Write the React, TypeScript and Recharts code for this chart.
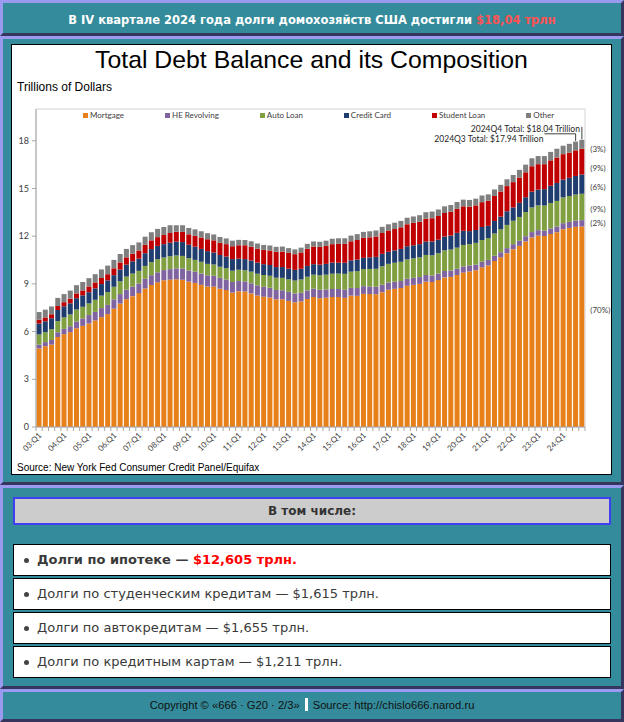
import { BarChart, Bar, XAxis, YAxis, Legend, LabelList, ReferenceLine, ReferenceArea } from "recharts";
import type { CSSProperties } from "react";

// quarters 2003Q1 .. 2024Q4, trillions of dollars (NY Fed CCP / Equifax)
const YEARS = ["03", "04", "05", "06", "07", "08", "09", "10", "11", "12", "13", "14", "15", "16", "17", "18", "19", "20", "21", "22", "23", "24"];
const QUARTERS = ["Q1", "Q2", "Q3", "Q4"];
const CATEGORIES = YEARS.flatMap((y) => QUARTERS.map((q) => `${y}:${q}`));
const Y_TICKS = [0, 3, 6, 9, 12, 15, 18];

const MORTGAGE = [
  4.94, 5.08, 5.18, 5.66,
  5.84, 5.97, 6.21, 6.36,
  6.51, 6.70, 6.91, 7.10,
  7.44, 7.76, 8.04, 8.23,
  8.42, 8.71, 8.93, 9.10,
  9.23, 9.27, 9.29, 9.26,
  9.14, 9.06, 8.94, 8.84,
  8.83, 8.70, 8.61, 8.45,
  8.54, 8.52, 8.40, 8.27,
  8.19, 8.15, 8.03, 8.03,
  7.93, 7.84, 7.90, 8.05,
  8.17, 8.10, 8.13, 8.17,
  8.17, 8.12, 8.26, 8.25,
  8.37, 8.36, 8.35, 8.48,
  8.63, 8.69, 8.74, 8.88,
  8.94, 9.00, 9.14, 9.12,
  9.24, 9.41, 9.44, 9.56,
  9.71, 9.78, 9.86, 10.04,
  10.16, 10.44, 10.67, 10.93,
  11.18, 11.39, 11.67, 11.92,
  12.04, 12.01, 12.14, 12.25,
  12.44, 12.52, 12.59, 12.61,
];

const HE_REVOLVING = [
  0.24, 0.26, 0.29, 0.30,
  0.33, 0.37, 0.43, 0.47,
  0.53, 0.54, 0.57, 0.58,
  0.59, 0.60, 0.60, 0.60,
  0.61, 0.61, 0.62, 0.63,
  0.64, 0.66, 0.69, 0.71,
  0.71, 0.71, 0.71, 0.70,
  0.68, 0.68, 0.67, 0.67,
  0.64, 0.64, 0.64, 0.64,
  0.63, 0.61, 0.59, 0.57,
  0.57, 0.56, 0.54, 0.54,
  0.53, 0.53, 0.52, 0.51,
  0.51, 0.51, 0.49, 0.49,
  0.49, 0.48, 0.47, 0.47,
  0.46, 0.45, 0.44, 0.44,
  0.44, 0.43, 0.42, 0.41,
  0.41, 0.40, 0.40, 0.39,
  0.39, 0.38, 0.36, 0.35,
  0.35, 0.33, 0.32, 0.32,
  0.32, 0.32, 0.33, 0.34,
  0.34, 0.34, 0.35, 0.36,
  0.38, 0.38, 0.39, 0.40,
];

const AUTO_LOAN = [
  0.64, 0.62, 0.68, 0.70,
  0.72, 0.74, 0.75, 0.73,
  0.73, 0.76, 0.78, 0.80,
  0.79, 0.80, 0.82, 0.82,
  0.79, 0.81, 0.82, 0.82,
  0.79, 0.81, 0.81, 0.79,
  0.77, 0.74, 0.74, 0.72,
  0.71, 0.70, 0.71, 0.71,
  0.71, 0.70, 0.73, 0.73,
  0.74, 0.75, 0.77, 0.78,
  0.79, 0.81, 0.84, 0.86,
  0.88, 0.91, 0.93, 0.96,
  0.97, 1.00, 1.02, 1.06,
  1.07, 1.10, 1.13, 1.16,
  1.17, 1.19, 1.21, 1.22,
  1.23, 1.24, 1.26, 1.27,
  1.28, 1.30, 1.32, 1.33,
  1.35, 1.34, 1.36, 1.37,
  1.37, 1.40, 1.44, 1.46,
  1.47, 1.50, 1.52, 1.55,
  1.56, 1.58, 1.60, 1.61,
  1.62, 1.63, 1.64, 1.66,
];

const CREDIT_CARD = [
  0.69, 0.69, 0.69, 0.70,
  0.70, 0.70, 0.71, 0.72,
  0.71, 0.72, 0.73, 0.74,
  0.73, 0.74, 0.75, 0.77,
  0.77, 0.80, 0.82, 0.84,
  0.84, 0.85, 0.87, 0.87,
  0.84, 0.83, 0.81, 0.80,
  0.76, 0.74, 0.73, 0.73,
  0.70, 0.70, 0.70, 0.70,
  0.68, 0.68, 0.67, 0.68,
  0.67, 0.67, 0.67, 0.68,
  0.66, 0.67, 0.68, 0.70,
  0.68, 0.70, 0.71, 0.73,
  0.71, 0.73, 0.75, 0.78,
  0.76, 0.78, 0.81, 0.83,
  0.82, 0.83, 0.84, 0.87,
  0.85, 0.87, 0.88, 0.93,
  0.89, 0.82, 0.81, 0.82,
  0.77, 0.79, 0.80, 0.86,
  0.84, 0.89, 0.93, 0.99,
  0.99, 1.03, 1.08, 1.13,
  1.12, 1.14, 1.17, 1.21,
];

const STUDENT_LOAN = [
  0.24, 0.24, 0.25, 0.25,
  0.26, 0.29, 0.30, 0.31,
  0.36, 0.37, 0.38, 0.39,
  0.43, 0.45, 0.46, 0.48,
  0.51, 0.53, 0.55, 0.55,
  0.58, 0.61, 0.62, 0.64,
  0.66, 0.68, 0.72, 0.75,
  0.76, 0.76, 0.78, 0.81,
  0.84, 0.87, 0.87, 0.87,
  0.90, 0.91, 0.96, 0.97,
  0.99, 0.99, 1.03, 1.08,
  1.11, 1.12, 1.13, 1.16,
  1.19, 1.19, 1.20, 1.23,
  1.26, 1.26, 1.28, 1.31,
  1.34, 1.34, 1.36, 1.38,
  1.41, 1.41, 1.44, 1.46,
  1.49, 1.48, 1.50, 1.51,
  1.54, 1.54, 1.55, 1.56,
  1.58, 1.57, 1.58, 1.58,
  1.59, 1.59, 1.57, 1.60,
  1.60, 1.57, 1.60, 1.60,
  1.60, 1.59, 1.61, 1.62,
];

const OTHER = [
  0.48, 0.49, 0.49, 0.51,
  0.51, 0.51, 0.52, 0.53,
  0.52, 0.52, 0.54, 0.54,
  0.53, 0.53, 0.53, 0.54,
  0.51, 0.51, 0.51, 0.52,
  0.50, 0.49, 0.41, 0.42,
  0.40, 0.41, 0.39, 0.38,
  0.37, 0.37, 0.36, 0.35,
  0.34, 0.33, 0.34, 0.33,
  0.31, 0.31, 0.31, 0.32,
  0.30, 0.30, 0.30, 0.31,
  0.32, 0.32, 0.33, 0.34,
  0.35, 0.35, 0.36, 0.37,
  0.37, 0.38, 0.38, 0.39,
  0.39, 0.40, 0.40, 0.41,
  0.40, 0.41, 0.41, 0.42,
  0.41, 0.42, 0.42, 0.43,
  0.42, 0.42, 0.42, 0.42,
  0.40, 0.41, 0.42, 0.43,
  0.45, 0.48, 0.48, 0.50,
  0.51, 0.51, 0.53, 0.55,
  0.53, 0.55, 0.55, 0.56,
];

const SERIES_KEYS = ["mortgage", "heRevolving", "autoLoan", "creditCard", "studentLoan", "other"];
const SERIES_NAMES = ["Mortgage", "HE Revolving", "Auto Loan", "Credit Card", "Student Loan", "Other"];
const SERIES_VALUES = [MORTGAGE, HE_REVOLVING, AUTO_LOAN, CREDIT_CARD, STUDENT_LOAN, OTHER];
// shares of the latest quarter, written at the right of the last bar
const SHARES = ["(70%)", "(2%)", "(9%)", "(6%)", "(9%)", "(3%)"];

const Q4_LABEL = "2024Q4 Total: $18.04 Trillion";
const Q3_LABEL = "2024Q3 Total: $17.94 Trillion";
const Q4_TOTAL = 18.04;
const Q3_TOTAL = 17.94;

const HEADLINE = "В IV квартале 2024 года долги домохозяйств США достигли ";
const HEADLINE_VALUE = "$18,04 трлн";
const ITEMS = [
  ["Долги по ипотеке — ", "$12,605 трлн."],
  ["Долги по студенческим кредитам — $1,615 трлн.", ""],
  ["Долги по автокредитам — $1,655 трлн.", ""],
  ["Долги по кредитным картам — $1,211 трлн.", ""],
];

// styles
const COLORS = ["#e8801a", "#8064a2", "#7f9f40", "#1f3d6e", "#c00000", "#7f7f7f"];
const SHARE_DY = [-17, 0, 2, 3, 6, 5];
const TEAL = "#348b9b";
const AXIS = "#a6a6a6";
const CHART_W = 599;
const CHART_H = 429;

const rows = CATEGORIES.map((q, i) => {
  const row: Record<string, string | number> = { q };
  SERIES_KEYS.forEach((k, s) => {
    row[k] = SERIES_VALUES[s][i];
    if (i === CATEGORIES.length - 1) row[`${k}Share`] = SHARES[s];
  });
  return row;
});

const LAST = CATEGORIES[CATEGORIES.length - 1];
const PREV = CATEGORIES[CATEGORIES.length - 2];
const Q3_LINE_START = "23:Q2";

function panel(top: number, height: number): CSSProperties {
  return {
    position: "absolute",
    left: 0,
    top,
    width: 624,
    height,
    boxSizing: "border-box",
    background: TEAL,
    borderTop: "3px solid #9a9af0",
    borderLeft: "3px solid #9a9af0",
    borderBottom: "3px solid #35355e",
    borderRight: "3px solid #35355e",
  };
}

function QuarterTick(props: any) {
  const { x, y, payload, index } = props;
  const half = typeof payload?.offset === "number" && payload.offset > 0 ? payload.offset : 3.12;
  const label = String(payload.value);
  return (
    <g>
      <line x1={x - half} x2={x - half} y1={y} y2={y + 4} stroke={AXIS} />
      {index === CATEGORIES.length - 1 && <line x1={x + half} x2={x + half} y1={y} y2={y + 4} stroke={AXIS} />}
      {label.endsWith("Q1") && (
        <text
          x={x + 3}
          y={y + 9}
          textAnchor="end"
          fontSize={8}
          fill="#404040"
          transform={`rotate(-45 ${x + 3} ${y + 9})`}
        >
          {label}
        </text>
      )}
    </g>
  );
}

const shareLabel = (dy: number) => (props: any) => {
  const { x, y, width, height, value } = props;
  if (!value) return null;
  return (
    <text x={Number(x) + Number(width) + 6} y={Number(y) + Number(height) / 2 + dy} dominantBaseline="central" fontSize={8} fill="#404040">
      {value}
    </text>
  );
};

const q4Label = (props: any) => {
  const vb = props.viewBox || {};
  return (
    <text x={vb.x - 2} y={vb.y + 2} textAnchor="end" dominantBaseline="central" fontSize={8.5} fill="#262626">
      {Q4_LABEL}
    </text>
  );
};

const q3Label = (props: any) => {
  const vb = props.viewBox || {};
  return (
    <text x={vb.x - 1} y={vb.y + 5} textAnchor="end" dominantBaseline="central" fontSize={8.5} fill="#262626">
      {Q3_LABEL}
    </text>
  );
};

function LegendRow() {
  return (
    <div style={{ display: "flex", gap: 41, fontSize: 8, lineHeight: "11px", color: "#404040", whiteSpace: "nowrap" }}>
      {SERIES_NAMES.map((name, i) => (
        <div key={name} style={{ display: "flex", alignItems: "center" }}>
          <span style={{ display: "inline-block", width: 5, height: 5, background: COLORS[i], marginRight: 2 }} />
          {name}
        </div>
      ))}
    </div>
  );
}

export default function App() {
  return (
    <div style={{ position: "absolute", left: 0, top: 0, width: 624, height: 722, overflow: "hidden", fontFamily: "'DejaVu Sans', sans-serif" }}>
      <div style={panel(0, 36)} />
      <div
        style={{
          position: "absolute",
          left: 0,
          top: 11,
          width: 624,
          textAlign: "center",
          fontSize: 11.5,
          fontWeight: "bold",
          lineHeight: "18px",
          color: "#ffffff",
          whiteSpace: "nowrap",
        }}
      >
        {HEADLINE}
        <span style={{ color: "#ff5252" }}>{HEADLINE_VALUE}</span>
      </div>

      <div style={panel(36, 449)} />
      <div
        style={{
          position: "absolute",
          left: 11,
          top: 44,
          width: CHART_W,
          height: CHART_H,
          border: "1px solid #000",
          background: "#fff",
        }}
      >
        <div
          style={{
            position: "absolute",
            left: 0,
            top: 1,
            width: CHART_W,
            textAlign: "center",
            fontFamily: "'Liberation Sans', Arial, sans-serif",
            fontSize: 24.8,
            lineHeight: "28px",
            color: "#000",
          }}
        >
          Total Debt Balance and its Composition
        </div>
        <div
          style={{
            position: "absolute",
            left: 5,
            top: 35,
            fontFamily: "'Liberation Sans', Arial, sans-serif",
            fontSize: 12,
            lineHeight: "14px",
            color: "#000",
          }}
        >
          Trillions of Dollars
        </div>
        <div style={{ position: "absolute", left: 0, top: 0 }}>
          <BarChart
            width={CHART_W}
            height={CHART_H}
            data={rows}
            margin={{ top: 64, right: 26, bottom: 0, left: 0 }}
            barCategoryGap="9%"
            style={{ fontFamily: "Lato, sans-serif" }}
          >
            <ReferenceArea x1={CATEGORIES[0]} x2={LAST} y1={0} y2={20} fill="none" stroke="#d4d4d4" ifOverflow="visible" />
            <XAxis
              dataKey="q"
              height={47}
              interval={0}
              tickSize={0}
              tickMargin={0}
              tickLine={false}
              axisLine={{ stroke: AXIS }}
              tick={QuarterTick}
            />
            <YAxis
              width={24}
              domain={[0, 20]}
              ticks={Y_TICKS}
              interval={0}
              tickSize={4}
              tickMargin={3}
              axisLine={{ stroke: AXIS }}
              tickLine={{ stroke: AXIS }}
              tick={{ fontSize: 9, fill: "#404040" }}
            />
            <Legend
              verticalAlign="middle"
              align="center"
              layout="horizontal"
              wrapperStyle={{ top: 65, left: 71, width: 520, height: 11 }}
              content={() => <LegendRow />}
            />
            {SERIES_KEYS.map((k, i) => (
              <Bar key={k} dataKey={k} name={SERIES_NAMES[i]} stackId="debt" fill={COLORS[i]} isAnimationActive={false}>
                <LabelList dataKey={`${k}Share`} content={shareLabel(SHARE_DY[i])} />
              </Bar>
            ))}
            <ReferenceLine
              segment={[{ x: LAST, y: 18.88 }, { x: LAST, y: Q4_TOTAL + 0.05 }]}
              stroke="#404040"
              strokeWidth={1}
              label={q4Label}
            />
            <ReferenceLine
              segment={[{ x: Q3_LINE_START, y: 18.44 }, { x: PREV, y: 18.44 }]}
              stroke="#404040"
              strokeWidth={1}
              label={q3Label}
            />
            <ReferenceLine
              segment={[{ x: PREV, y: 18.44 }, { x: PREV, y: Q3_TOTAL + 0.05 }]}
              stroke="#404040"
              strokeWidth={1}
            />
          </BarChart>
        </div>
        <div
          style={{
            position: "absolute",
            left: 5,
            top: 417,
            fontFamily: "'Liberation Sans', Arial, sans-serif",
            fontSize: 10,
            lineHeight: "12px",
            color: "#000",
            whiteSpace: "nowrap",
          }}
        >
          Source: New York Fed Consumer Credit Panel/Equifax
        </div>
      </div>

      <div style={panel(485, 204)} />
      <div
        style={{
          position: "absolute",
          left: 13,
          top: 497,
          width: 598,
          height: 28,
          boxSizing: "border-box",
          border: "2px solid #4040f0",
          background: "#cccccc",
          textAlign: "center",
          fontSize: 12,
          fontWeight: "bold",
          lineHeight: "24px",
          color: "#333",
        }}
      >
        В том числе:
      </div>
      {ITEMS.map(([text, value], i) => (
        <div
          key={i}
          style={{
            position: "absolute",
            left: 13,
            top: 544 + 34 * i,
            width: 598,
            height: 32,
            boxSizing: "border-box",
            border: "1px solid #000",
            background: "#fff",
            fontSize: 13,
            lineHeight: "30px",
            color: "#3a3a3a",
            fontWeight: i === 0 ? "bold" : "normal",
            whiteSpace: "nowrap",
          }}
        >
          <span
            style={{
              position: "absolute",
              left: 10,
              top: 13,
              width: 5,
              height: 5,
              borderRadius: "50%",
              background: "#444",
            }}
          />
          <span style={{ position: "absolute", left: 23, top: 0 }}>
            {text}
            {value && <span style={{ color: "#ff0000" }}>{value}</span>}
          </span>
        </div>
      ))}

      <div style={panel(689, 33)} />
      <div
        style={{
          position: "absolute",
          left: 0,
          top: 698,
          width: 624,
          textAlign: "center",
          fontFamily: "'Liberation Sans', Arial, sans-serif",
          fontSize: 11.2,
          lineHeight: "14px",
          color: "#111",
          whiteSpace: "nowrap",
        }}
      >
        Copyright © «666 · G20 · 2/3»
        <span style={{ display: "inline-block", width: 3, height: 13, background: "#fff", margin: "0 5px", verticalAlign: "-2px" }} />
        Source: http://chislo666.narod.ru
      </div>
    </div>
  );
}
